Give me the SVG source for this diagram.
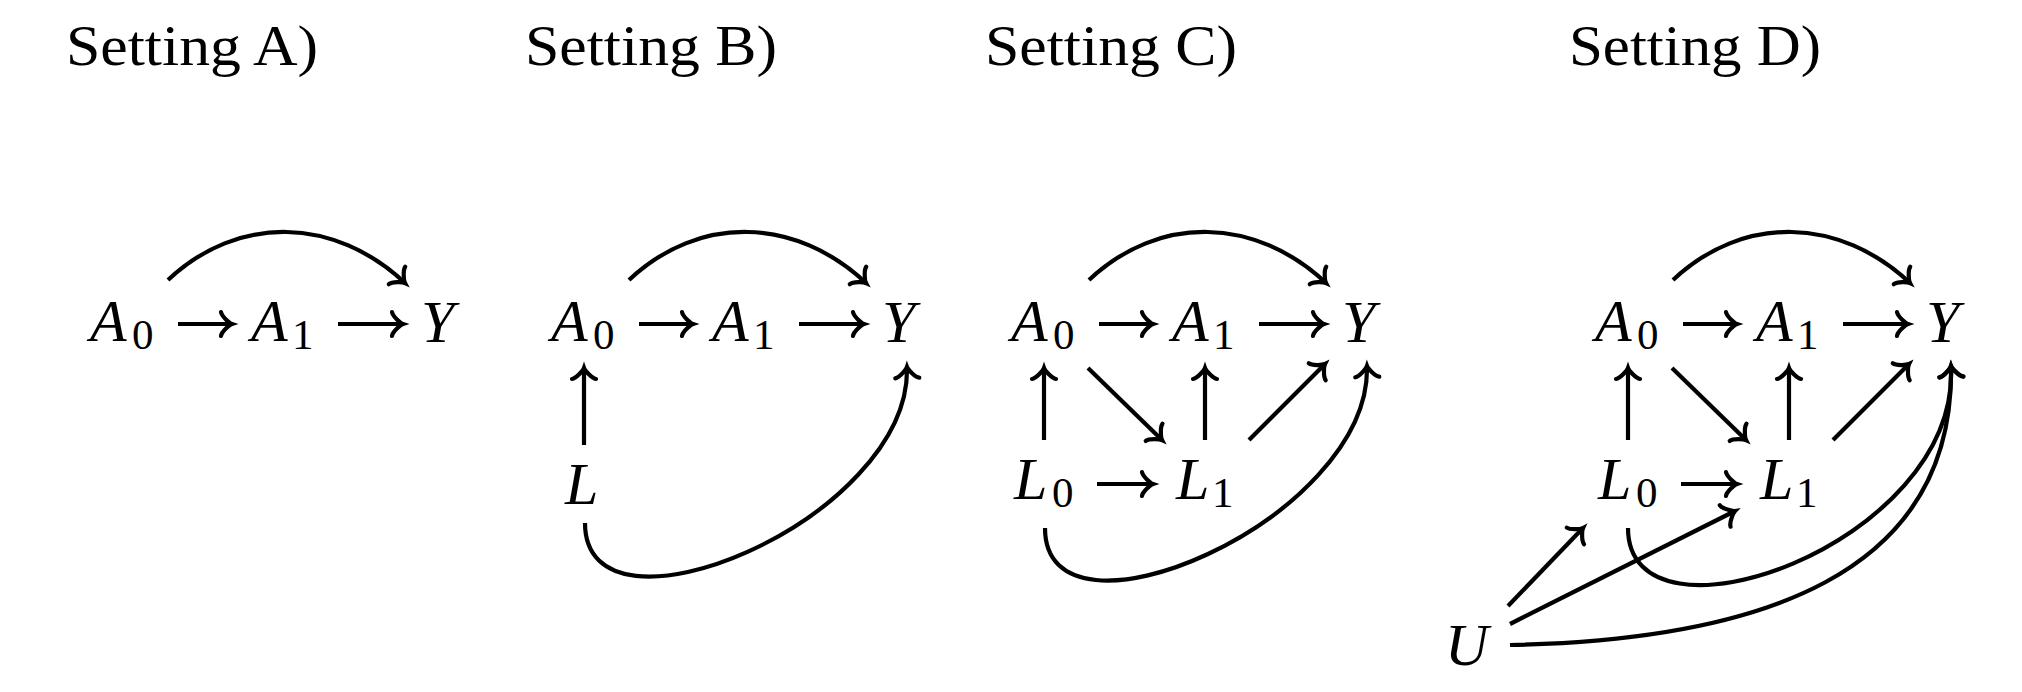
<svg xmlns="http://www.w3.org/2000/svg" width="2022" height="692" viewBox="0 0 2022 692">
<defs>
<marker id="to" markerUnits="userSpaceOnUse" orient="auto" overflow="visible" markerWidth="30" markerHeight="30" viewBox="-15 -15 30 30" refX="0" refY="0">
<path d="M-11,-12 C-10.3,-7.5 -2.2,-0.75 0,0 C-2.2,0.75 -10.3,7.5 -11,12" fill="none" stroke="#000" stroke-width="4.2" stroke-linecap="round"/>
</marker>
</defs>
<style>
text{font-family:"Liberation Serif","DejaVu Serif",serif;fill:#000}
.t{font-size:58px}
.m{font-style:italic;font-size:60px}
.s{font-style:normal;font-size:43px}
.e{fill:none;stroke:#000;stroke-width:4.2;marker-end:url(#to)}
</style>
<rect width="2022" height="692" fill="#fff"/>

<g id="panelA">
<text class="t" x="66" y="65" textLength="252" lengthAdjust="spacingAndGlyphs">Setting A)</text>
<g id="A-A0"><text class="m" x="90" y="341">A<tspan class="s" x="132" y="349">0</tspan></text></g>
<g id="A-A1"><text class="m" x="251" y="341">A<tspan class="s" x="292" y="349">1</tspan></text></g>
<g id="A-Y"><text class="m" x="421" y="342">Y</text></g>
<g id="A-edges">
<path class="e" d="M178,324 H232"/>
<path class="e" d="M338,324 H403"/>
<path class="e" d="M168,280 C238,214 335,217 405,283"/>
</g>
</g>

<g id="panelB" transform="translate(461,0)">
<text class="t" x="64" y="65" textLength="252" lengthAdjust="spacingAndGlyphs">Setting B)</text>
<g id="B-A0"><text class="m" x="90" y="341">A<tspan class="s" x="132" y="349">0</tspan></text></g>
<g id="B-A1"><text class="m" x="251" y="341">A<tspan class="s" x="292" y="349">1</tspan></text></g>
<g id="B-Y"><text class="m" x="421" y="342">Y</text></g>
<g id="B-L"><text class="m" x="104" y="504">L</text></g>
<g id="B-edges">
<path class="e" d="M178,324 H232"/>
<path class="e" d="M338,324 H403"/>
<path class="e" d="M168,280 C238,214 335,217 405,283"/>
<path class="e" d="M123,445 V368"/>
<path class="e" d="M124,523 C124,655 450,520 446,367"/>
</g>
</g>

<g id="panelC" transform="translate(921,0)">
<text class="t" x="64" y="65" textLength="252" lengthAdjust="spacingAndGlyphs">Setting C)</text>
<g id="C-A0"><text class="m" x="90" y="341">A<tspan class="s" x="132" y="349">0</tspan></text></g>
<g id="C-A1"><text class="m" x="251" y="341">A<tspan class="s" x="292" y="349">1</tspan></text></g>
<g id="C-Y"><text class="m" x="421" y="342">Y</text></g>
<g id="C-L0"><text class="m" x="93" y="499">L<tspan class="s" x="131" y="507">0</tspan></text></g>
<g id="C-L1"><text class="m" x="255" y="499">L<tspan class="s" x="291" y="507">1</tspan></text></g>
<g id="C-edges">
<path class="e" d="M178,324 H232"/>
<path class="e" d="M338,324 H403"/>
<path class="e" d="M168,280 C238,214 335,217 405,283"/>
<path class="e" d="M123,440 V368"/>
<path class="e" d="M284,440 V368"/>
<path class="e" d="M176,484 H232"/>
<path class="e" d="M167,368 L241,440"/>
<path class="e" d="M328,440 L404,364"/>
<path class="e" d="M124,528 C124,660 450,520 446,366"/>
</g>
</g>

<g id="panelD" transform="translate(1505,0)">
<text class="t" x="64" y="65" textLength="252" lengthAdjust="spacingAndGlyphs">Setting D)</text>
<g id="D-A0"><text class="m" x="90" y="341">A<tspan class="s" x="132" y="349">0</tspan></text></g>
<g id="D-A1"><text class="m" x="251" y="341">A<tspan class="s" x="292" y="349">1</tspan></text></g>
<g id="D-Y"><text class="m" x="421" y="342">Y</text></g>
<g id="D-L0"><text class="m" x="93" y="499">L<tspan class="s" x="131" y="507">0</tspan></text></g>
<g id="D-L1"><text class="m" x="255" y="499">L<tspan class="s" x="291" y="507">1</tspan></text></g>
<g id="D-U"><text class="m" x="-60" y="665">U</text></g>
<g id="D-edges">
<path class="e" d="M178,324 H232"/>
<path class="e" d="M338,324 H403"/>
<path class="e" d="M168,280 C238,214 335,217 405,283"/>
<path class="e" d="M123,440 V368"/>
<path class="e" d="M284,440 V368"/>
<path class="e" d="M176,484 H232"/>
<path class="e" d="M167,368 L241,440"/>
<path class="e" d="M328,440 L404,364"/>
<path class="e" d="M123,528 C123,660 455,545 446,366"/>
<path class="e" d="M3,606 L78,528"/>
<path class="e" d="M5,624 L230,511"/>
<path class="e" d="M5,645 C255,640 450,575 446,366"/>
</g>
</g>
</svg>
